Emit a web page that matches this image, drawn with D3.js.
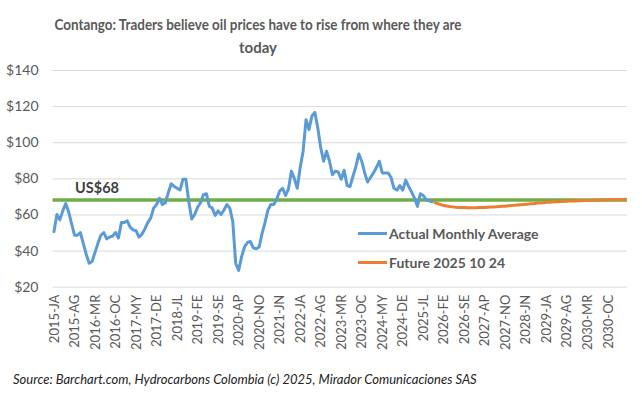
<!DOCTYPE html>
<html>
<head>
<meta charset="utf-8">
<script src="https://cdn.jsdelivr.net/npm/d3@7"></script>
<style>
  body { margin: 0; background: #fff; }
  svg { display: block; font-family: Lato, "Open Sans", sans-serif; }
</style>
</head>
<body>
<div id="chart"></div>
<script>
// month codes used on the category axis
const monthCodes = ["JA", "FE", "MR", "AP", "MY", "JN", "JL", "AG", "SE", "OC", "NO", "DE"];
const firstYear = 2015;
const categoryCount = 196; // 2015-JA .. 2031-AP

// monthly average, 2015-JA .. 2025-OC
const actual = [
  50.5, 60, 57, 62, 66, 61.5, 55, 48.5, 48.5, 50, 44, 38,        // 2015
  33, 34, 39, 44, 48.5, 50, 46.5, 47.5, 48, 50, 47, 55.5,        // 2016
  55.5, 56.5, 53, 51.5, 51, 47.5, 49, 52, 55.5, 58, 63.5, 65.5,  // 2017
  69, 65.5, 66.5, 72, 77, 75.5, 74.5, 73.5, 79.5, 79.5, 67, 57.5, // 2018
  60, 64, 66.5, 71, 71.5, 64.5, 63.5, 59.5, 62, 60, 62.5, 65.5,  // 2019
  63.5, 56, 33, 29, 36.5, 42, 44.5, 45, 41.5, 41, 42, 49.5,      // 2020
  55.5, 62.5, 65.5, 65.5, 68.5, 73, 74.5, 70.5, 74, 84, 80, 74.5, // 2021
  86, 95, 112.5, 107, 114.5, 116.5, 108, 97, 89.5, 95, 89.5, 82,  // 2022
  84, 83.5, 79.5, 84.5, 76, 75.5, 81, 86.5, 93.5, 89.5, 83, 78,   // 2023
  80.5, 83, 86, 89.5, 83, 83, 83, 80.5, 74.5, 73.5, 76, 73.5,     // 2024
  79, 75.5, 72.5, 69, 64.5, 71.5, 70.5, 68, 67.5, 67              // 2025
];

// futures curve of 2025-10-24, 2025-NO .. 2031-AP
const futures = [
  66.5, 66.0, 65.4, 65.0, 64.7, 64.4, 64.2, 64.0, 63.9, 63.8,
  63.8, 63.7, 63.7, 63.7, 63.7, 63.8, 63.8, 63.9, 64.0, 64.1,
  64.2, 64.3, 64.4, 64.5, 64.6, 64.8, 64.9, 65.1, 65.2, 65.4,
  65.5, 65.7, 65.8, 66.0, 66.1, 66.3, 66.4, 66.5, 66.7, 66.8,
  66.9, 67.0, 67.1, 67.2, 67.2, 67.3, 67.4, 67.4, 67.5, 67.6,
  67.6, 67.7, 67.7, 67.8, 67.8, 67.9, 67.9, 68.0, 68.0, 68.1,
  68.1, 68.2, 68.2, 68.3, 68.3, 68.4
];

const benchmark = 68;
const yTicks = [20, 40, 60, 80, 100, 120, 140];
const seriesNames = ["Actual Monthly Average", "Future 2025 10 24"];
const titleLines = ["Contango: Traders believe oil prices have to rise from where they are", "today"];
const sourceText = "Source: Barchart.com, Hydrocarbons Colombia (c) 2025, Mirador Comunicaciones SAS";

const width = 642, height = 393;
const plot = { left: 52.5, right: 627, top: 70, bottom: 286.7 };
const textColor = "#595959";
const colors = { actual: "#5B9BD5", futures: "#ED7D31", benchmark: "#70AD47" };

// build category labels
let categories = [];
for (let i = 0; i < categoryCount; i++) {
  let y = firstYear + Math.floor(i / 12);
  categories.push(y + "-" + monthCodes[i % 12]);
}

let svg = d3.select("#chart").append("svg").attr("width", width).attr("height", height);

let x = d3.scaleBand().domain(categories).range([plot.left, plot.right]);
let cx = d => x(d) + x.bandwidth() / 2;
let y = d3.scaleLinear().domain([20, 140]).range([plot.bottom, plot.top]);

// title (squeezed to the width of the original narrow face)
svg.append("g").selectAll("text").data(titleLines).enter().append("text")
  .attr("x", 258).attr("y", (d, i) => 30 + i * 23)
  .attr("text-anchor", "middle")
  .attr("font-size", 15).attr("font-weight", "bold").attr("fill", textColor)
  .attr("textLength", (d, i) => i === 0 ? 407 : null)
  .attr("lengthAdjust", "spacingAndGlyphs")
  .text(d => d);

// gridlines + y labels
let yAxis = d3.axisLeft(y).tickValues(yTicks).tickFormat(d => "$" + d)
  .tickSize(-(plot.right - plot.left)).tickPadding(14);
let gy = svg.append("g").attr("transform", `translate(${plot.left},0)`).call(yAxis);
gy.select(".domain").remove();
gy.selectAll(".tick line").attr("stroke", "#D9D9D9").attr("stroke-width", 1);
gy.selectAll(".tick text").attr("font-size", 14).attr("fill", textColor)
  .attr("font-family", "Lato, sans-serif");

// x labels every 7th month
let xAxis = d3.axisBottom(x).tickValues(categories.filter((d, i) => i % 7 === 0)).tickSize(0);
let gx = svg.append("g").attr("transform", `translate(0,${plot.bottom})`).call(xAxis);
gx.select(".domain").remove();
gx.selectAll(".tick text")
  .attr("font-size", 13).attr("fill", textColor).attr("font-family", "Lato, sans-serif")
  .attr("text-anchor", "end").attr("dx", "-8").attr("dy", "0.35em")
  .attr("transform", "rotate(-90)").attr("x", 0).attr("y", 0);

// benchmark line
svg.append("line")
  .attr("x1", plot.left).attr("x2", plot.right)
  .attr("y1", y(benchmark)).attr("y2", y(benchmark))
  .attr("stroke", colors.benchmark).attr("stroke-width", 3.5);

svg.append("text").attr("x", 75).attr("y", y(benchmark) - 7)
  .attr("font-size", 14.5).attr("font-weight", "bold").attr("fill", "#404040")
  .text("US$" + benchmark);

let line = d3.line().x(d => cx(d.c)).y(d => y(d.v)).curve(d3.curveLinear);

let actualPts = actual.map((v, i) => ({ c: categories[i], v: v }));
let futurePts = futures.map((v, i) => ({ c: categories[actual.length + i], v: v }));

svg.append("path").datum(actualPts).attr("d", line)
  .attr("fill", "none").attr("stroke", colors.actual).attr("stroke-width", 3)
  .attr("stroke-linejoin", "round").attr("stroke-linecap", "round");

svg.append("path").datum(futurePts).attr("d", line)
  .attr("fill", "none").attr("stroke", colors.futures).attr("stroke-width", 3)
  .attr("stroke-linejoin", "round").attr("stroke-linecap", "round");

// legend
let legend = svg.append("g").selectAll("g").data(seriesNames).enter().append("g")
  .attr("transform", (d, i) => `translate(358,${233.5 + i * 29})`);
legend.append("line").attr("x1", 0).attr("x2", 29)
  .attr("stroke", (d, i) => i === 0 ? colors.actual : colors.futures).attr("stroke-width", 3);
legend.append("text").attr("x", 31).attr("y", 5)
  .attr("font-size", 14).attr("font-weight", "bold").attr("fill", textColor)
  .text(d => d);

// source
svg.append("text").attr("x", 13).attr("y", 384)
  .attr("font-size", 13).attr("font-style", "italic").attr("fill", "#222")
  .text(sourceText);
</script>
</body>
</html>
